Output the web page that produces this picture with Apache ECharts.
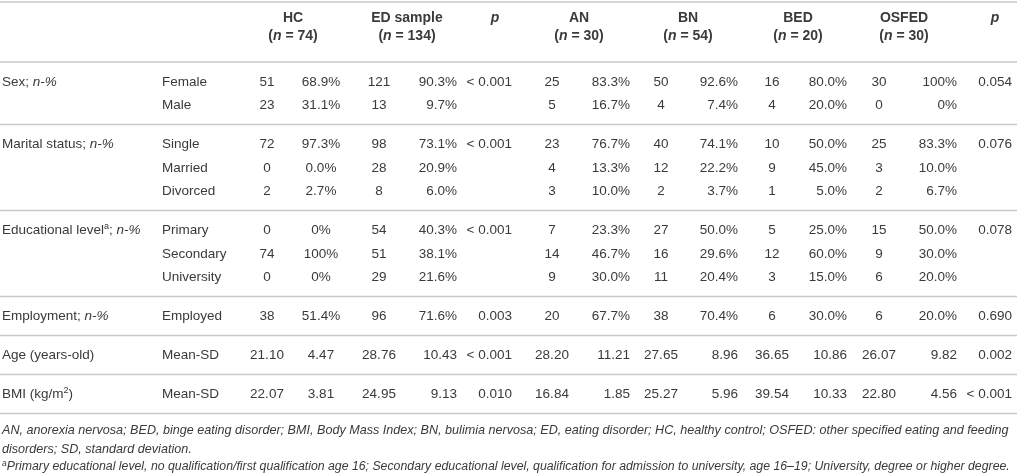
<!DOCTYPE html>
<html><head><meta charset="utf-8">
<script src="https://cdn.jsdelivr.net/npm/echarts@6/dist/echarts.min.js"></script>
<style>html,body{margin:0;padding:0;background:#fff}#c{width:1017px;height:476px}</style>
</head><body><div id="c"></div>
<script>
// ---------------- data ----------------
const groupLabels = ['Sex; {i|n-%}', 'Marital status; {i|n-%}', 'Educational level{sup|a}; {i|n-%}', 'Employment; {i|n-%}', 'Age (years-old)', 'BMI (kg/m{sup|2})'];
const subCategories = [['Female', 'Male'], ['Single', 'Married', 'Divorced'], ['Primary', 'Secondary', 'University'], ['Employed'], ['Mean-SD'], ['Mean-SD']];
const sampleNames = ['HC', 'ED sample', 'AN', 'BN', 'BED', 'OSFED'];
const sampleSizes = [74, 134, 30, 54, 20, 30];
const hcN    = ['51', '23', '72', '0', '2', '0', '74', '0', '38', '21.10', '22.07'];
const hcPct  = ['68.9%', '31.1%', '97.3%', '0.0%', '2.7%', '0%', '100%', '0%', '51.4%', '4.47', '3.81'];
const edN    = ['121', '13', '98', '28', '8', '54', '51', '29', '96', '28.76', '24.95'];
const edPct  = ['90.3%', '9.7%', '73.1%', '20.9%', '6.0%', '40.3%', '38.1%', '21.6%', '71.6%', '10.43', '9.13'];
const pHcEd  = ['< 0.001', '< 0.001', '< 0.001', '0.003', '< 0.001', '0.010'];
const anN    = ['25', '5', '23', '4', '3', '7', '14', '9', '20', '28.20', '16.84'];
const anPct  = ['83.3%', '16.7%', '76.7%', '13.3%', '10.0%', '23.3%', '46.7%', '30.0%', '67.7%', '11.21', '1.85'];
const bnN    = ['50', '4', '40', '12', '2', '27', '16', '11', '38', '27.65', '25.27'];
const bnPct  = ['92.6%', '7.4%', '74.1%', '22.2%', '3.7%', '50.0%', '29.6%', '20.4%', '70.4%', '8.96', '5.96'];
const bedN   = ['16', '4', '10', '9', '1', '5', '12', '3', '6', '36.65', '39.54'];
const bedPct = ['80.0%', '20.0%', '50.0%', '45.0%', '5.0%', '25.0%', '60.0%', '15.0%', '30.0%', '10.86', '10.33'];
const osN    = ['30', '0', '25', '3', '2', '15', '9', '6', '6', '26.07', '22.80'];
const osPct  = ['100%', '0%', '83.3%', '10.0%', '6.7%', '50.0%', '30.0%', '20.0%', '20.0%', '9.82', '4.56'];
const pSubtypes = ['0.054', '0.076', '0.078', '0.690', '0.002', '< 0.001'];
const footnotes = [
  'AN, anorexia nervosa; BED, binge eating disorder; BMI, Body Mass Index; BN, bulimia nervosa; ED, eating disorder; HC, healthy control; OSFED: other specified eating and feeding',
  'disorders; SD, standard deviation.',
  '{fsup|a}Primary educational level, no qualification/first qualification age 16; Secondary educational level, qualification for admission to university, age 16\u201319; University, degree or higher degree.'
];

// ---------------- layout (positions & styles only) ----------------
const W = 1017, H = 476;
const FONT = "'Liberation Sans', Arial, sans-serif";
const TXT = '#3a3a3a', RULE = '#c9c9c9';
const colLayout = {
  label: [2, 'left'], sub: [162, 'left'],
  hcN: [267, 'center'], hcPct: [321, 'center'],
  edN: [379, 'center'], edPct: [457, 'right'], p1: [512, 'right'],
  anN: [552, 'center'], anPct: [630, 'right'],
  bnN: [661, 'center'], bnPct: [738, 'right'],
  bedN: [772, 'center'], bedPct: [847, 'right'],
  osN: [879, 'center'], osPct: [957, 'right'], p2: [1012, 'right']
};
const headerCenters = [293, 407, 579, 688, 798, 904];
const pHeaderCenters = [495, 995];
const HEAD_Y1 = 18, HEAD_Y2 = 36, TOP_RULE = 2, HEAD_RULE = 62;
const PAD_TOP = 20, STEP = 23.5, PAD_BOTTOM = 19;
const FOOT_Y = [430, 449, 467];
const FOOT_SIZES = [12.6, 12.6, 12.3];

const rowY = [], groupY = [], rules = [TOP_RULE, HEAD_RULE];
let yCur = HEAD_RULE;
subCategories.forEach(subs => {
  const first = yCur + PAD_TOP;
  groupY.push(first);
  subs.forEach((s, i) => rowY.push(first + i * STEP));
  yCur = first + (subs.length - 1) * STEP + PAD_BOTTOM;
  rules.push(yCur);
});

const cells = [];
function addCell(x, y, text, align, kind, size) { cells.push({ value: [x, y], text, align, kind, size }); }

// header
sampleNames.forEach((nm, i) => {
  addCell(headerCenters[i], HEAD_Y1, nm, 'center', 'head');
  addCell(headerCenters[i], HEAD_Y2, '({bi|n} = ' + sampleSizes[i] + ')', 'center', 'head');
});
pHeaderCenters.forEach(x => addCell(x, HEAD_Y1, '{bi|p}', 'center', 'head'));

// groups & subcategories
groupLabels.forEach((g, i) => addCell(colLayout.label[0], groupY[i], g, colLayout.label[1], 'body'));
subCategories.flat().forEach((s, i) => addCell(colLayout.sub[0], rowY[i], s, colLayout.sub[1], 'body'));

const valueCols = { hcN, hcPct, edN, edPct, anN, anPct, bnN, bnPct, bedN, bedPct, osN, osPct };
Object.keys(valueCols).forEach(k => {
  valueCols[k].forEach((v, i) => addCell(colLayout[k][0], rowY[i], v, colLayout[k][1], 'body'));
});
pHcEd.forEach((v, i) => addCell(colLayout.p1[0], groupY[i], v, colLayout.p1[1], 'body'));
pSubtypes.forEach((v, i) => addCell(colLayout.p2[0], groupY[i], v, colLayout.p2[1], 'body'));

footnotes.forEach((t, i) => addCell(2, FOOT_Y[i], t, 'left', 'foot', FOOT_SIZES[i]));

const richBody = {
  i: { fontStyle: 'italic', fontSize: 13.5, fontFamily: FONT, fill: TXT },
  sup: { fontSize: 9, fontFamily: FONT, fill: TXT, verticalAlign: 'top', lineHeight: 12 },
  bi: { fontStyle: 'italic', fontWeight: 'bold', fontSize: 14, fontFamily: FONT, fill: TXT },
  fsup: { fontStyle: 'italic', fontSize: 8.5, fontFamily: FONT, fill: TXT, verticalAlign: 'top', lineHeight: 10 }
};

const chart = echarts.init(document.getElementById('c'), null, { renderer: 'canvas' });
chart.setOption({
  animation: false,
  backgroundColor: '#fff',
  grid: { left: 0, right: 0, top: 0, bottom: 0 },
  xAxis: { type: 'value', min: 0, max: W, show: false },
  yAxis: { type: 'value', min: 0, max: H, inverse: true, show: false },
  series: [
    {
      type: 'custom',
      coordinateSystem: 'cartesian2d',
      data: rules.map(y => [0, y]),
      renderItem: (params, api) => {
        const a = api.coord([0, api.value(1)]);
        const b = api.coord([W, api.value(1)]);
        return { type: 'line', shape: { x1: a[0], y1: a[1], x2: b[0], y2: b[1] }, style: { stroke: RULE, lineWidth: 1.6 } };
      }
    },
    {
      type: 'custom',
      coordinateSystem: 'cartesian2d',
      data: cells.map(c => c.value),
      renderItem: (params, api) => {
        const c = cells[params.dataIndex];
        const p = api.coord([api.value(0), api.value(1)]);
        const st = {
          text: c.text, fill: TXT, align: c.align, verticalAlign: 'middle',
          fontFamily: FONT, fontSize: 13.5, fontWeight: 'normal', fontStyle: 'normal',
          lineHeight: 16, rich: richBody
        };
        if (c.kind === 'head') { st.fontWeight = 'bold'; st.fontSize = 14; }
        if (c.kind === 'foot') { st.fontStyle = 'italic'; st.fontSize = c.size; }
        return { type: 'text', x: p[0], y: p[1], style: st };
      }
    }
  ]
});
</script></body></html>
